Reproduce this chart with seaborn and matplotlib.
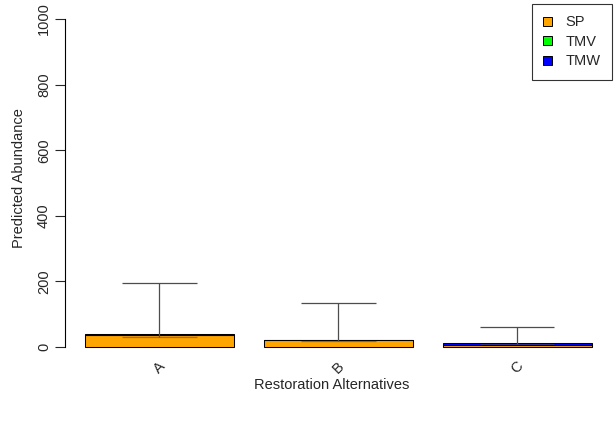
import numpy as np
import pandas as pd
import seaborn as sns
from matplotlib import pyplot as plt
from matplotlib.patches import Patch

sns.set_style('white')
plt.rcParams['font.family'] = ['Liberation Sans', 'DejaVu Sans']

# values
alternatives = ['A', 'B', 'C']
sp = [37, 20, 5]
tmv = [1, 0.5, 0.5]
tmw = [1, 1, 6]
err_low = [32, 18, 9]
err_high = [194, 133, 62]
species = ['SP', 'TMV', 'TMW']
colors = ['orange', '#00ff00', '#0000ff']

df = pd.DataFrame({'alt': alternatives, 'SP': sp, 'TMV': tmv, 'TMW': tmw})

fig = plt.figure(figsize=(6.14, 4.25), dpi=100)
W, H = 614, 425
ax = fig.add_axes([65 / W, (H - 352) / H, (600 - 65) / W, (352 - 5) / H])

bottom = np.zeros(len(alternatives))
for name, col in zip(species, colors):
    sns.barplot(data=df, x='alt', y=name, color=col, width=0.833,
                errorbar=None, bottom=bottom, edgecolor='black',
                linewidth=0.75, saturation=1, ax=ax)
    bottom = bottom + df[name].values

# error bars, drawn R-arrows style
xpos = np.arange(len(alternatives))
half = 0.833 / 4
ecol = '#4d4d4d'
ax.vlines(xpos, err_low, err_high, color=ecol, lw=0.9, zorder=5)
ax.hlines(err_high, xpos - half, xpos + half, color=ecol, lw=0.9, zorder=5)
ax.hlines(err_low, xpos - half, xpos + half, color=ecol, lw=0.9, zorder=5, alpha=0.6)

ax.set_ylim(-15.2, 1042.7)
ax.set_xlim(-0.5285, 2.4637)
ax.set_yticks([0, 200, 400, 600, 800, 1000])
ax.set_yticklabels(['0', '200', '400', '600', '800', '1000'],
                   rotation=90, va='center', fontsize=10.5)
ax.set_xticks(xpos)
ax.set_xticklabels(alternatives, rotation=45, fontsize=10.5, ha='center')
ax.tick_params(axis='x', length=0, pad=5)
ax.tick_params(axis='y', length=7, width=0.8, direction='out', pad=3, left=True)

for s in ['top', 'right', 'bottom']:
    ax.spines[s].set_visible(False)
ax.spines['left'].set_bounds(0, 1000)
ax.spines['left'].set_color('black')
ax.spines['left'].set_linewidth(0.8)

ax.set_ylabel('Predicted Abundance', fontsize=10.5, labelpad=8)
ax.set_xlabel('Restoration Alternatives', fontsize=10.5)
ax.xaxis.set_label_coords(0.498, -0.075)

handles = [Patch(facecolor=c, edgecolor='black', linewidth=0.7, label=n)
           for n, c in zip(species, colors)]
leg = fig.legend(handles=handles, loc='upper right',
                 bbox_to_anchor=(612 / W, 1 - 4 / H), bbox_transform=fig.transFigure,
                 borderaxespad=0, fancybox=False, edgecolor='black',
                 fontsize=10.5, handlelength=0.6, handleheight=0.6,
                 handletextpad=0.95, labelspacing=0.38, borderpad=0.78)
leg.get_frame().set_linewidth(0.8)

fig.savefig('out.png', dpi=100)
